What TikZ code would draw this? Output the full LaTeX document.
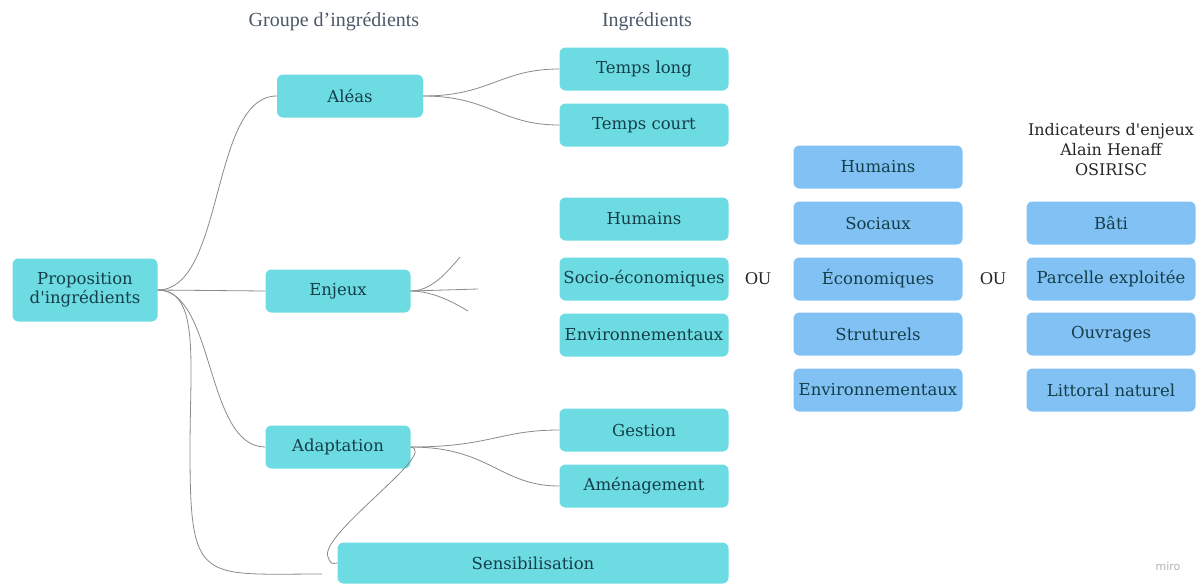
\documentclass[tikz,border=0pt]{standalone}
\usepackage{fontspec}
\setmainfont{DejaVu Serif}
\newfontfamily\headfont{Liberation Serif}
\newfontfamily\logofont{DejaVu Sans}
\definecolor{cyanbox}{HTML}{6DDCE2}
\definecolor{bluebox}{HTML}{82C1F4}
\definecolor{boxtext}{HTML}{143E49}
\definecolor{headtext}{HTML}{4A5868}
\definecolor{linkgrey}{HTML}{8A8A8A}
\tikzset{
  base/.style={rounded corners=6pt, minimum height=43pt, inner sep=0pt,
    text=boxtext, font=\fontsize{16.5}{19}\selectfont, align=center},
  cbox/.style={base, fill=cyanbox, minimum width=#1},
  cbox/.default=169pt,
  bbox/.style={base, fill=bluebox, minimum width=169pt},
  link/.style={draw=linkgrey, line width=0.8pt},
  heading/.style={text=headtext, font=\headfont\fontsize{20}{22}\selectfont},
}
\begin{document}
\begin{tikzpicture}[x=1pt, y=-1pt]
\useasboundingbox (0,0) rectangle (1204,584);

% column headings
\node[heading] (hgroup) at (334,22) {Groupe d’ingrédients};
\node[heading] (hingr) at (647,22) {Ingrédients};

% root and ingredient groups
\node[cbox=145pt, minimum height=63pt] (prop) at (85,290) {Proposition\\d\textquotesingle ingrédients};
\node[cbox=146pt] (aleas) at (350,96) {Aléas};
\node[cbox=145pt] (enjeux) at (338,291) {Enjeux};
\node[cbox=145pt] (adapt) at (338,447) {Adaptation};
\node[cbox=391pt, minimum height=41pt] (sens) at (533,563) {Sensibilisation};

% ingredients
\node[cbox] (tlong) at (644,69) {Temps long};
\node[cbox] (tcourt) at (644,125) {Temps court};
\node[cbox] (hum) at (644,219) {Humains};
\node[cbox] (socio) at (644,279) {Socio-économiques};
\node[cbox] (envi) at (644,335) {Environnementaux};
\node[cbox] (gest) at (644,430) {Gestion};
\node[cbox] (amen) at (644,486) {Aménagement};

% alternative sets of stakes
\node[heading, text=black!85, font=\headfont\fontsize{18}{20}\selectfont] (ou1) at (758,279) {OU};
\node[bbox] (bhum) at (878,167) {Humains};
\node[bbox] (bsoc) at (878,223) {Sociaux};
\node[bbox] (beco) at (878,279) {Économiques};
\node[bbox] (bstr) at (878,334) {Struturels};
\node[bbox] (benv) at (878,390) {Environnementaux};

\node[heading, text=black!85, font=\headfont\fontsize{18}{20}\selectfont] (ou2) at (993,279) {OU};
\node[text=black!85, font=\fontsize{16}{20}\selectfont, align=center] (hind) at (1111,150)
  {Indicateurs d\textquotesingle enjeux\\Alain Henaff\\OSIRISC};
\node[bbox] (bati) at (1111,223) {Bâti};
\node[bbox] (parc) at (1111,279) {Parcelle exploitée};
\node[bbox] (ouvr) at (1111,334) {Ouvrages};
\node[bbox] (litt) at (1111,390) {Littoral naturel};

\node[text=black!30, font=\logofont\fontsize{11}{12}\selectfont] (logo) at (1168,566) {miro};

% connectors from the root
\draw[link] (prop.east) .. controls (225,290) and (210,96) .. (aleas.west);
\draw[link] (prop.east) -- (enjeux.west);
\draw[link] (prop.east) .. controls (215,290) and (205,447) .. (adapt.west);
\coordinate (sensend) at (322,574);
\draw[link] (prop.east) .. controls (200,290) and (190,360) .. (190,450)
  .. controls (190,585) and (200,574) .. (sensend);

% connectors from the groups
\draw[link] (aleas.east) .. controls (490,96) and (500,69) .. (tlong.west);
\draw[link] (aleas.east) .. controls (490,96) and (500,125) .. (tcourt.west);
\coordinate (e1) at (460,257);
\coordinate (e2) at (478,289);
\coordinate (e3) at (468,311);
\draw[link] (enjeux.east) .. controls (430,291) and (445,275) .. (e1);
\draw[link] (enjeux.east) -- (e2);
\draw[link] (enjeux.east) .. controls (430,291) and (450,300) .. (e3);
\draw[link] (adapt.east) .. controls (490,447) and (500,430) .. (gest.west);
\draw[link] (adapt.east) .. controls (490,447) and (500,486) .. (amen.west);
\draw[link] (adapt.east) .. controls (440,452) and (318,535) .. (328,557)
  .. controls (331,564) .. (sens.west);
\end{tikzpicture}
\end{document}
